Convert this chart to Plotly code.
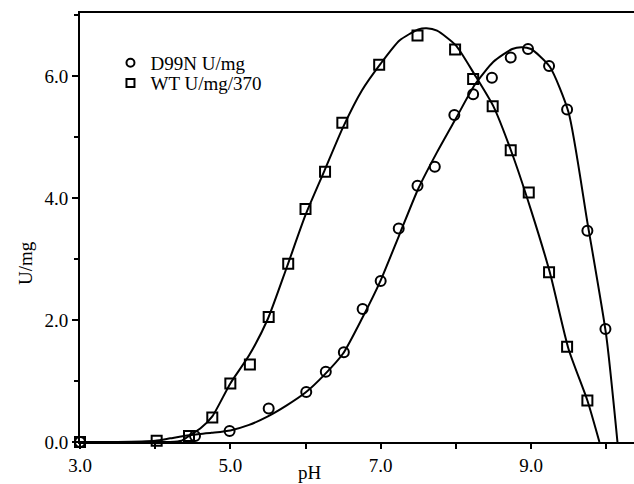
import plotly.graph_objects as go

ph_d99n = [3.0, 4.53, 4.99, 5.51, 6.01, 6.27, 6.51, 6.76, 7.0, 7.24, 7.49, 7.72,
           7.98, 8.23, 8.48, 8.73, 8.96, 9.24, 9.48, 9.75, 9.99]
u_d99n = [0.0, 0.10, 0.18, 0.55, 0.82, 1.15, 1.47, 2.18, 2.64, 3.50, 4.20, 4.51,
          5.36, 5.70, 5.97, 6.30, 6.44, 6.16, 5.45, 3.46, 1.85]

ph_wt = [3.0, 4.02, 4.45, 4.76, 5.0, 5.26, 5.51, 5.77, 6.0, 6.26, 6.49, 6.98,
         7.49, 7.99, 8.23, 8.49, 8.73, 8.97, 9.24, 9.48, 9.75]
u_wt = [0.0, 0.02, 0.10, 0.40, 0.96, 1.27, 2.05, 2.92, 3.82, 4.43, 5.23, 6.18,
        6.66, 6.43, 5.95, 5.50, 4.78, 4.09, 2.78, 1.56, 0.68]

# Fitted curves
fit_wt_x = [3.0, 3.5, 4.0, 4.2, 4.35, 4.45, 4.6, 4.76, 5.0, 5.25, 5.5, 5.75, 6.0,
            6.25, 6.5, 6.75, 7.0, 7.25, 7.5, 7.61, 7.75, 8.0, 8.25, 8.5, 8.75,
            9.0, 9.25, 9.5, 9.75, 9.91]
fit_wt_y = [0.0, 0.0, 0.0, 0.0, 0.02, 0.10, 0.22, 0.42, 0.96, 1.42, 2.02, 2.86, 3.72,
            4.44, 5.16, 5.76, 6.2, 6.58, 6.76, 6.78, 6.74, 6.5, 6.02, 5.5, 4.72,
            3.8, 2.78, 1.52, 0.68, 0.0]

fit_d99n_x = [3.0, 3.5, 4.0, 4.2, 4.45, 4.75, 5.0, 5.25, 5.5, 5.75, 6.0, 6.25, 6.5,
              6.75, 7.0, 7.25, 7.5, 7.75, 8.0, 8.25, 8.5, 8.75, 8.87, 9.0, 9.25,
              9.5, 9.75, 10.0, 10.15]
fit_d99n_y = [0.0, 0.0, 0.02, 0.06, 0.11, 0.15, 0.19, 0.28, 0.42, 0.60, 0.81, 1.10,
              1.45, 2.02, 2.65, 3.40, 4.15, 4.75, 5.30, 5.85, 6.23, 6.44, 6.47,
              6.44, 6.15, 5.40, 3.60, 1.75, 0.0]

legend_names = ["D99N U/mg", "WT U/mg/370"]
x_title = "pH"
y_title = "U/mg"

FONT = "Liberation Serif"
BLACK = "#000000"

fig = go.Figure()

fig.add_trace(go.Scatter(x=fit_d99n_x, y=fit_d99n_y, mode="lines",
                         line=dict(color=BLACK, width=2, shape="spline", smoothing=0.6),
                         showlegend=False, hoverinfo="skip"))
fig.add_trace(go.Scatter(x=fit_wt_x, y=fit_wt_y, mode="lines",
                         line=dict(color=BLACK, width=2, shape="spline", smoothing=0.6),
                         showlegend=False, hoverinfo="skip"))

fig.add_trace(go.Scatter(x=ph_d99n, y=u_d99n, mode="markers", name=legend_names[0],
                         marker=dict(symbol="circle-open", size=10, color=BLACK,
                                     line=dict(width=2, color=BLACK)),
                         cliponaxis=False, showlegend=False))
fig.add_trace(go.Scatter(x=ph_wt, y=u_wt, mode="markers", name=legend_names[1],
                         marker=dict(symbol="square-open", size=10, color=BLACK,
                                     line=dict(width=2, color=BLACK)),
                         cliponaxis=False, showlegend=False))

# legend-only entries, one legend each so the rows can sit close together
fig.add_trace(go.Scatter(x=[None], y=[None], mode="markers", name=legend_names[0],
                         marker=dict(symbol="circle-open", size=8, color=BLACK,
                                     line=dict(width=2, color=BLACK)),
                         legend="legend"))
fig.add_trace(go.Scatter(x=[None], y=[None], mode="markers", name=legend_names[1],
                         marker=dict(symbol="square-open", size=8, color=BLACK,
                                     line=dict(width=2, color=BLACK)),
                         legend="legend2"))

leg_common = dict(xanchor="left", yanchor="top", bgcolor="rgba(0,0,0,0)",
                  borderwidth=0, font=dict(family=FONT, size=19, color=BLACK),
                  itemwidth=30)

fig.update_layout(
    width=634, height=484,
    margin=dict(l=80, r=0, t=13, b=42),
    paper_bgcolor="white", plot_bgcolor="white",
    font=dict(family=FONT, size=19, color=BLACK),
    showlegend=True,
    legend=dict(x=0.055, y=0.928, **leg_common),
    legend2=dict(x=0.055, y=0.881, **leg_common),
    xaxis=dict(range=[3.0, 10.37], tick0=3, dtick=2, tickformat=".1f",
               showgrid=False, zeroline=False,
               showline=True, linecolor=BLACK, linewidth=2, mirror=True,
               ticks="outside", ticklen=5, tickwidth=1.5, tickcolor=BLACK,
               minor=dict(dtick=1, ticks="outside", ticklen=5, tickwidth=1.5,
                          tickcolor=BLACK, showgrid=False),
               tickfont=dict(family=FONT, size=19, color=BLACK)),
    yaxis=dict(range=[0, 7.03], tick0=0, dtick=2, tickformat=".1f",
               showgrid=False, zeroline=False,
               showline=True, linecolor=BLACK, linewidth=2,
               ticks="outside", ticklen=6, tickwidth=1.5, tickcolor=BLACK,
               minor=dict(dtick=1, ticks="outside", ticklen=4, tickwidth=1.5,
                          tickcolor=BLACK, showgrid=False),
               tickfont=dict(family=FONT, size=19, color=BLACK)),
    annotations=[
        dict(text=x_title, xref="paper", yref="paper", x=(309.5 - 80) / 554,
             y=(442 - 472) / 429, xanchor="center", yanchor="middle",
             showarrow=False, font=dict(family=FONT, size=19, color=BLACK)),
        dict(text=y_title, xref="paper", yref="paper", x=(25 - 80) / 554,
             y=(442 - 263) / 429, xanchor="center", yanchor="middle",
             textangle=-90, showarrow=False,
             font=dict(family=FONT, size=19, color=BLACK)),
    ],
)

fig.write_html("out.html", config={"displayModeBar": False},
               post_script="document.body.style.margin='0';")
